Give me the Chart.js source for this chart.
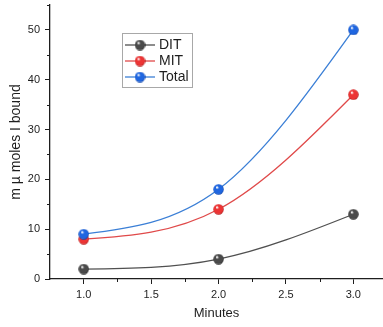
<!DOCTYPE html>
<html>
<head>
<meta charset="utf-8">
<script src="https://cdn.jsdelivr.net/npm/chart.js@4.4.0/dist/chart.umd.min.js"></script>
<style>
    html, body { margin: 0; padding: 0; background: #fff; }
    canvas { display: block; }
</style>
</head>
<body>
<canvas id="chart" width="383" height="327"></canvas>
<script>
// Data
const minutes = [1.0, 2.0, 3.0];
const ditValues = [2, 4, 13];
const mitValues = [8, 14, 37];
const totalValues = [9, 18, 50];
const xTicks = [1.0, 1.5, 2.0, 2.5, 3.0];
const xMinorTicks = [1.25, 1.75, 2.25, 2.75];
const yTicks = [0, 10, 20, 30, 40, 50];
const yMinorTicks = [5, 15, 25, 35, 45, 55];

const FONT = '"Liberation Sans", Arial, sans-serif';
const INK = '#1e1e1e';

// Shiny ball marker, like Origin's sphere symbol
function makeBall(base, dark, size) {
    const c = document.createElement('canvas');
    c.width = size; c.height = size;
    const g = c.getContext('2d');
    const r = size / 2;
    const grad = g.createRadialGradient(r * 0.7, r * 0.6, 0.5, r, r, r);
    grad.addColorStop(0, '#ffffff');
    grad.addColorStop(0.25, base);
    grad.addColorStop(0.8, base);
    grad.addColorStop(1, dark);
    g.fillStyle = grad;
    g.beginPath();
    g.arc(r, r, r - 0.3, 0, Math.PI * 2);
    g.fill();
    return c;
}

// Natural cubic spline slopes (Origin's "Spline" connect)
function naturalSlopes(xs, ys) {
    const n = xs.length;
    const h = [];
    for (let i = 0; i < n - 1; i++) h.push(xs[i + 1] - xs[i]);
    const M = new Array(n).fill(0);
    if (n > 2) {
        const a = [], b = [], c = [], d = [];
        for (let i = 1; i < n - 1; i++) {
            a.push(h[i - 1]);
            b.push(2 * (h[i - 1] + h[i]));
            c.push(h[i]);
            d.push(6 * ((ys[i + 1] - ys[i]) / h[i] - (ys[i] - ys[i - 1]) / h[i - 1]));
        }
        const m = n - 2;
        for (let i = 1; i < m; i++) {
            const w = a[i] / b[i - 1];
            b[i] -= w * c[i - 1];
            d[i] -= w * d[i - 1];
        }
        for (let i = m - 1; i >= 0; i--) {
            M[i + 1] = (d[i] - (i < m - 1 ? c[i] * M[i + 2] : 0)) / b[i];
        }
    }
    const s = [];
    for (let i = 0; i < n - 1; i++) {
        s.push((ys[i + 1] - ys[i]) / h[i] - h[i] * (2 * M[i] + M[i + 1]) / 6);
    }
    s.push((ys[n - 1] - ys[n - 2]) / h[n - 2] + h[n - 2] * (M[n - 2] + 2 * M[n - 1]) / 6);
    return s;
}

const splinePlugin = {
    id: 'naturalSpline',
    beforeDatasetDraw(chart, args) {
        const meta = args.meta;
        const line = meta.dataset;
        const pts = meta.data;
        const data = chart.data.datasets[args.index].data;
        const sx = chart.scales.x, sy = chart.scales.y;
        line.updateControlPoints(chart.chartArea, meta.indexAxis);
        const slopes = naturalSlopes(data.map(p => p.x), data.map(p => p.y));
        for (let i = 0; i < pts.length - 1; i++) {
            const h = (data[i + 1].x - data[i].x) / 3;
            pts[i].cp2x = sx.getPixelForValue(data[i].x + h);
            pts[i].cp2y = sy.getPixelForValue(data[i].y + slopes[i] * h);
            pts[i + 1].cp1x = sx.getPixelForValue(data[i + 1].x - h);
            pts[i + 1].cp1y = sy.getPixelForValue(data[i + 1].y - slopes[i + 1] * h);
        }
        line._path = undefined;
    }
};

// Minor ticks on both axes
const minorTicks = {
    id: 'minorTicks',
    afterDraw(chart) {
        const ctx = chart.ctx;
        const { x, y } = chart.scales;
        const area = chart.chartArea;
        ctx.save();
        ctx.strokeStyle = INK;
        ctx.lineWidth = 1;
        ctx.beginPath();
        xMinorTicks.forEach(v => {
            const px = Math.round(x.getPixelForValue(v)) + 0.5;
            ctx.moveTo(px, area.bottom);
            ctx.lineTo(px, area.bottom + 3);
        });
        yMinorTicks.forEach(v => {
            const py = Math.round(y.getPixelForValue(v)) + 0.5;
            ctx.moveTo(area.left, py);
            ctx.lineTo(area.left - 3, py);
        });
        ctx.stroke();
        ctx.restore();
    }
};

// Boxed legend inside the plot
const boxLegend = {
    id: 'boxLegend',
    afterDraw(chart) {
        const ctx = chart.ctx;
        const left = 122, top = 33;
        ctx.save();
        ctx.fillStyle = '#fff';
        ctx.fillRect(left, top, 70, 54);
        ctx.strokeStyle = '#a8a8a8';
        ctx.lineWidth = 1;
        ctx.strokeRect(left + 0.5, top + 0.5, 70, 54);
        ctx.font = '14px ' + FONT;
        ctx.textBaseline = 'middle';
        chart.data.datasets.forEach((ds, i) => {
            const cy = top + 12 + i * 16;
            ctx.strokeStyle = ds.borderColor;
            ctx.lineWidth = 1.3;
            ctx.beginPath();
            ctx.moveTo(left + 3, cy);
            ctx.lineTo(left + 33, cy);
            ctx.stroke();
            const img = ds.pointStyle;
            ctx.drawImage(img, left + 18 - img.width / 2, cy - img.height / 2);
            ctx.fillStyle = INK;
            ctx.fillText(ds.label, left + 37, cy + 0.5);
        });
        ctx.restore();
    }
};

const toPoints = vals => minutes.map((m, i) => ({ x: m, y: vals[i] }));

new Chart(document.getElementById('chart'), {
    type: 'line',
    data: {
        datasets: [{
            label: 'DIT',
            data: toPoints(ditValues),
            borderColor: '#505050',
            pointStyle: makeBall('#4a4a4a', '#1a1a1a', 11),
            order: 3
        }, {
            label: 'MIT',
            data: toPoints(mitValues),
            borderColor: '#e04a4a',
            pointStyle: makeBall('#ec3434', '#a01010', 11),
            order: 2
        }, {
            label: 'Total',
            data: toPoints(totalValues),
            borderColor: '#3b7fd6',
            pointStyle: makeBall('#1f66e0', '#0a3a9a', 11),
            order: 1
        }]
    },
    options: {
        responsive: false,
        animation: false,
        events: [],
        clip: false,
        layout: { autoPadding: false, padding: { top: 5, left: 0, right: 0, bottom: 0 } },
        elements: {
            line: { borderWidth: 1.3, tension: 0.4, fill: false },
            point: { radius: 6 }
        },
        plugins: {
            legend: { display: false },
            tooltip: { enabled: false }
        },
        scales: {
            x: {
                type: 'linear',
                min: 0.75,
                max: 3.22,
                afterBuildTicks: s => { s.ticks = xTicks.map(v => ({ value: v })); },
                afterFit: s => { s.height = 48; s.paddingLeft = 0; s.paddingRight = 0; },
                border: { color: INK, width: 1.3 },
                grid: { drawOnChartArea: false, tickLength: 5, color: INK },
                ticks: {
                    color: INK,
                    padding: 4,
                    font: { family: FONT, size: 11 },
                    callback: v => v.toFixed(1)
                },
                title: {
                    display: true,
                    text: 'Minutes',
                    color: INK,
                    font: { family: FONT, size: 13 },
                    padding: { top: 0, bottom: 6 }
                }
            },
            y: {
                type: 'linear',
                min: 0,
                max: 55,
                afterBuildTicks: s => { s.ticks = yTicks.map(v => ({ value: v })); },
                afterFit: s => { s.width = 50; s.paddingTop = 0; s.paddingBottom = 0; },
                border: { color: INK, width: 1.3 },
                grid: { drawOnChartArea: false, tickLength: 5, color: INK },
                ticks: {
                    color: INK,
                    padding: 5,
                    font: { family: FONT, size: 11 }
                },
                title: {
                    display: true,
                    text: 'm µ moles I bound',
                    color: INK,
                    font: { family: FONT, size: 14 },
                    padding: { top: 8, bottom: 0 }
                }
            }
        }
    },
    plugins: [splinePlugin, minorTicks, boxLegend]
});
</script>
</body>
</html>
